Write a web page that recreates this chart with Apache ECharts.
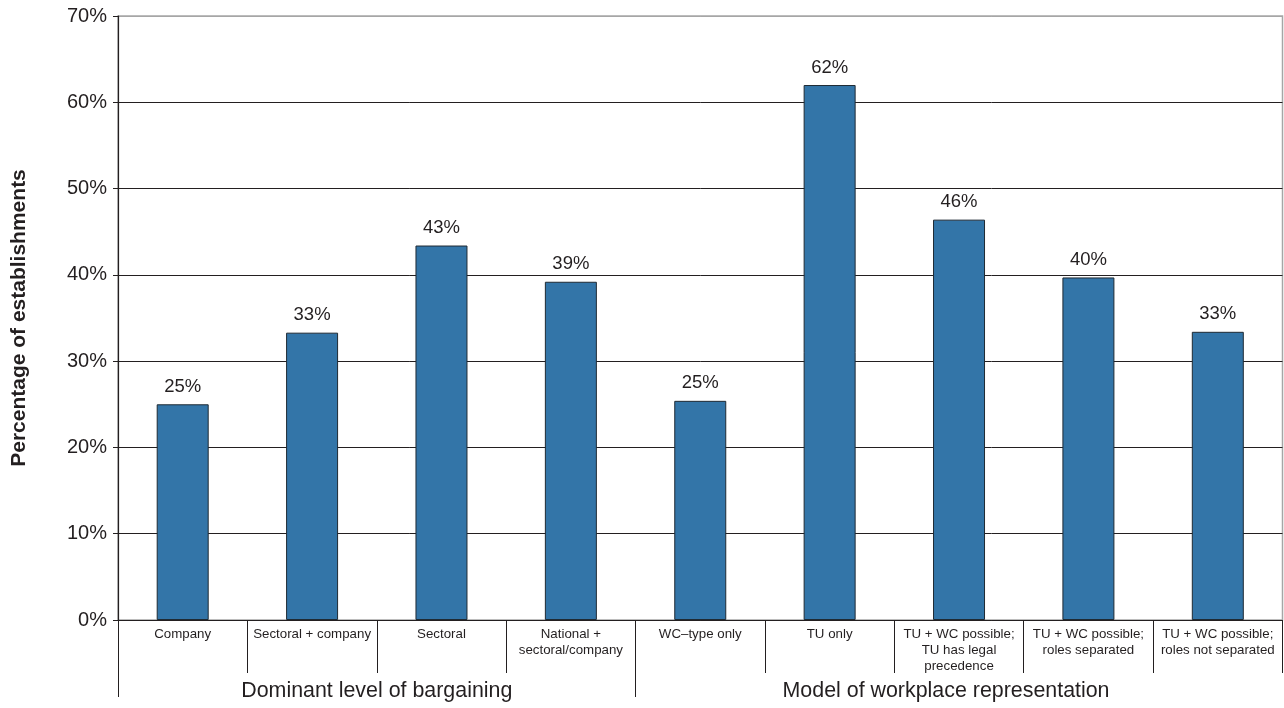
<!DOCTYPE html>
<html>
<head>
<meta charset="utf-8">
<script src="https://cdn.jsdelivr.net/npm/echarts@6/dist/echarts.min.js"></script>
<style>
  html, body { margin: 0; padding: 0; background: #fff; }
  #chart { width: 1284px; height: 708px; }
</style>
</head>
<body>
<div id="chart"></div>
<script>
// Share of establishments, by bargaining level and representation model
const categories = [
  'Company',
  'Sectoral + company',
  'Sectoral',
  'National +\nsectoral/company',
  'WC\u2013type only',
  'TU only',
  'TU + WC possible;\nTU has legal\nprecedence',
  'TU + WC possible;\nroles separated',
  'TU + WC possible;\nroles not separated'
];
const shares = [25.0, 33.3, 43.4, 39.2, 25.4, 62.0, 46.4, 39.7, 33.4];

// Group headings: first four categories, then the remaining five
const groupNames = ['Dominant level of bargaining', 'Model of workplace representation'];
const groupSizes = [4, 5];

const yTicks = [0, 10, 20, 30, 40, 50, 60, 70];

// Half-category slots along the bottom so each heading sits centred under its group
const halfSlots = [];
const total = groupSizes.reduce((a, b) => a + b, 0) * 2;
for (let i = 0; i <= total; i++) halfSlots.push('');
const groupBounds = [0];
let start = 0;
groupSizes.forEach((n, g) => {
  halfSlots[start * 2 + n] = groupNames[g];
  start += n;
  groupBounds.push(start * 2);
});

const font = 'Liberation Sans, Arial, Helvetica, sans-serif';
const ink = '#231f20';

const chart = echarts.init(document.getElementById('chart'), null, { renderer: 'canvas' });
chart.setOption({
  animation: false,
  backgroundColor: '#ffffff',
  grid: {
    left: 118, right: 1.5, top: 16, bottom: 88,
    containLabel: false,
    outerBoundsMode: 'none',
    show: true, borderColor: '#a6a6a6', borderWidth: 1.5, backgroundColor: 'transparent'
  },
  xAxis: [
    {
      type: 'category',
      data: categories,
      position: 'bottom',
      axisLine: { show: true, lineStyle: { color: ink, width: 1 } },
      axisTick: { show: true, interval: 0, length: 53, lineStyle: { color: ink, width: 1 } },
      axisLabel: {
        interval: 0, margin: 6, color: ink, fontFamily: font, fontSize: 13.3, lineHeight: 16,
        verticalAlign: 'top'
      },
      z: 5
    },
    {
      type: 'category',
      data: halfSlots.map((v, i) => i === 13 ? { value: v, textStyle: { padding: [0, 26, 0, 0] } } : v),
      boundaryGap: false,
      position: 'bottom',
      axisLine: { show: false },
      axisTick: {
        show: true, length: 77,
        interval: (i) => groupBounds.slice(0, -1).indexOf(i) >= 0,
        lineStyle: { color: ink, width: 1 }
      },
      axisLabel: {
        interval: 0, margin: 61, color: ink, fontFamily: font, fontSize: 21.4,
        verticalAlign: 'top'
      },
      splitLine: { show: false }
    }
  ],
  yAxis: {
    type: 'value',
    min: yTicks[0], max: yTicks[yTicks.length - 1], interval: 10,
    name: 'Percentage of establishments',
    nameLocation: 'middle',
    nameGap: 88,
    nameTextStyle: { fontFamily: font, fontSize: 21, fontWeight: 'bold', color: ink },
    axisLine: { show: true, lineStyle: { color: ink, width: 1.2 } },
    axisTick: { show: true, length: 5, lineStyle: { color: ink } },
    axisLabel: {
      formatter: (v) => v + '%', color: ink, fontFamily: font, fontSize: 20, margin: 11
    },
    splitLine: {
      show: true,
      lineStyle: { color: [ink, ink, ink, ink, ink, ink, ink, '#a6a6a6'], width: 1 }
    }
  },
  series: [{
    type: 'bar',
    xAxisIndex: 0,
    data: shares,
    barWidth: 52,
    itemStyle: { color: '#3375a8', borderColor: '#1f2a33', borderWidth: 1 },
    label: {
      show: true, position: 'top', distance: 8,
      formatter: (p) => Math.round(p.value) + '%',
      color: ink, fontFamily: font, fontSize: 18.5
    },
    z: 3
  }]
});
</script>
</body>
</html>
